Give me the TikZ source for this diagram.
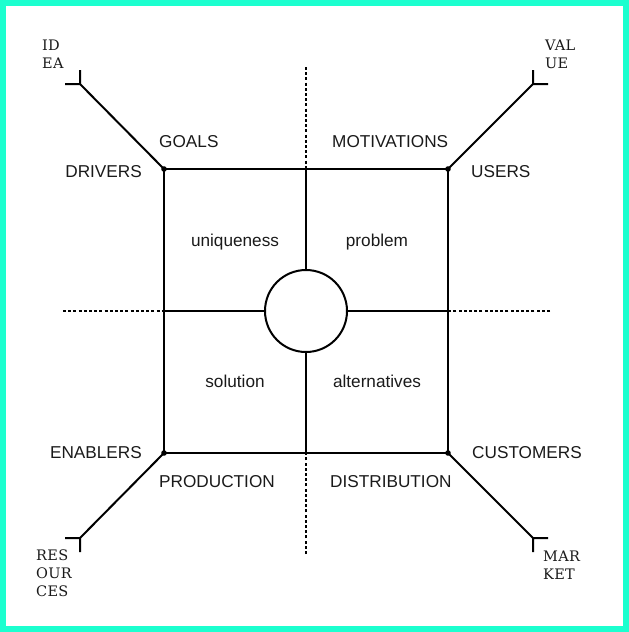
\documentclass[tikz,border=0pt]{standalone}
\usepackage{fontspec}
\setmainfont{Liberation Sans}
\newfontfamily\slabfont[LetterSpace=2]{DejaVu Serif}
\definecolor{rim}{HTML}{1CFFCF}
\definecolor{ink}{HTML}{1A1A1A}
\tikzset{
  axis/.style={line width=2pt},
  guide/.style={line width=1.8pt, dash pattern=on 3pt off 2.2pt},
  tag/.style={font=\fontsize{17.2}{21}\selectfont, text=ink, inner sep=0pt},
  cell/.style={tag, anchor=base},
  tipnote/.style={font=\slabfont\fontsize{14.5}{18}\selectfont, text=ink, inner sep=0pt, align=left}
}
\begin{document}
\begin{tikzpicture}[x=1pt,y=-1pt]
\useasboundingbox (0,0) rectangle (629,632);
\draw[rim, line width=6pt] (3,3) rectangle (626,629);
\coordinate (nw) at (164,169);
\coordinate (ne) at (448,169);
\coordinate (se) at (448,453);
\coordinate (sw) at (164,453);
\coordinate (top) at (306,169);
\coordinate (bot) at (306,453);
\coordinate (lft) at (164,311);
\coordinate (rgt) at (448,311);
\coordinate (topout) at (306,67);
\coordinate (botout) at (306,554);
\coordinate (lftout) at (63,311);
\coordinate (rgtout) at (550,311);
\coordinate (idea) at (80,84);
\coordinate (value) at (533,84);
\coordinate (resources) at (80,538);
\coordinate (market) at (533,538);
\node[circle, draw, line width=2pt, minimum size=82pt, inner sep=0pt] (hub) at (306,311) {};
% square and cross
\draw[axis] (nw) -- (ne) -- (se) -- (sw) -- cycle;
\draw[axis] (top) -- (hub.north);
\draw[axis] (bot) -- (hub.south);
\draw[axis] (lft) -- (hub.west);
\draw[axis] (rgt) -- (hub.east);
\draw[guide] (topout) -- (top);
\draw[guide] (botout) -- (bot);
\draw[guide] (lftout) -- (lft);
\draw[guide] (rgtout) -- (rgt);
% diagonals
\draw[axis] (nw) -- (idea) ++(-15,0) -- (idea) -- ++(0,-14);
\draw[axis] (ne) -- (value) ++(15,0) -- (value) -- ++(0,-14);
\draw[axis] (sw) -- (resources) ++(-15,0) -- (resources) -- ++(0,14);
\draw[axis] (se) -- (market) ++(15,0) -- (market) -- ++(0,14);
\fill (nw) circle (2.8pt);
\fill (ne) circle (2.8pt);
\fill (se) circle (2.8pt);
\fill (sw) circle (2.8pt);
% labels
\node[tag, anchor=base east] (drivers) at (142,177) {DRIVERS};
\node[tag, anchor=base west] (goals) at (159,147) {GOALS};
\node[tag, anchor=base west] (motivations) at (332,147) {MOTIVATIONS};
\node[tag, anchor=base west] (users) at (471,177) {USERS};
\node[cell] (uniqueness) at (235,246) {uniqueness};
\node[cell] (problem) at (377,246) {problem};
\node[cell] (solution) at (235,387) {solution};
\node[cell] (alternatives) at (377,387) {alternatives};
\node[tag, anchor=base east] (enablers) at (142,458) {ENABLERS};
\node[tag, anchor=base west] (production) at (159,487) {PRODUCTION};
\node[tag, anchor=base west] (distribution) at (330,487) {DISTRIBUTION};
\node[tag, anchor=base west] (customers) at (472,458) {CUSTOMERS};
\node[tipnote, anchor=north west] (idealbl) at (42,40) {ID\\EA};
\node[tipnote, anchor=north west] (valuelbl) at (545,40) {VAL\\UE};
\node[tipnote, anchor=north west] (resourceslbl) at (36,550) {RES\\OUR\\CES};
\node[tipnote, anchor=north west] (marketlbl) at (543,551) {MAR\\KET};
\end{tikzpicture}
\end{document}
